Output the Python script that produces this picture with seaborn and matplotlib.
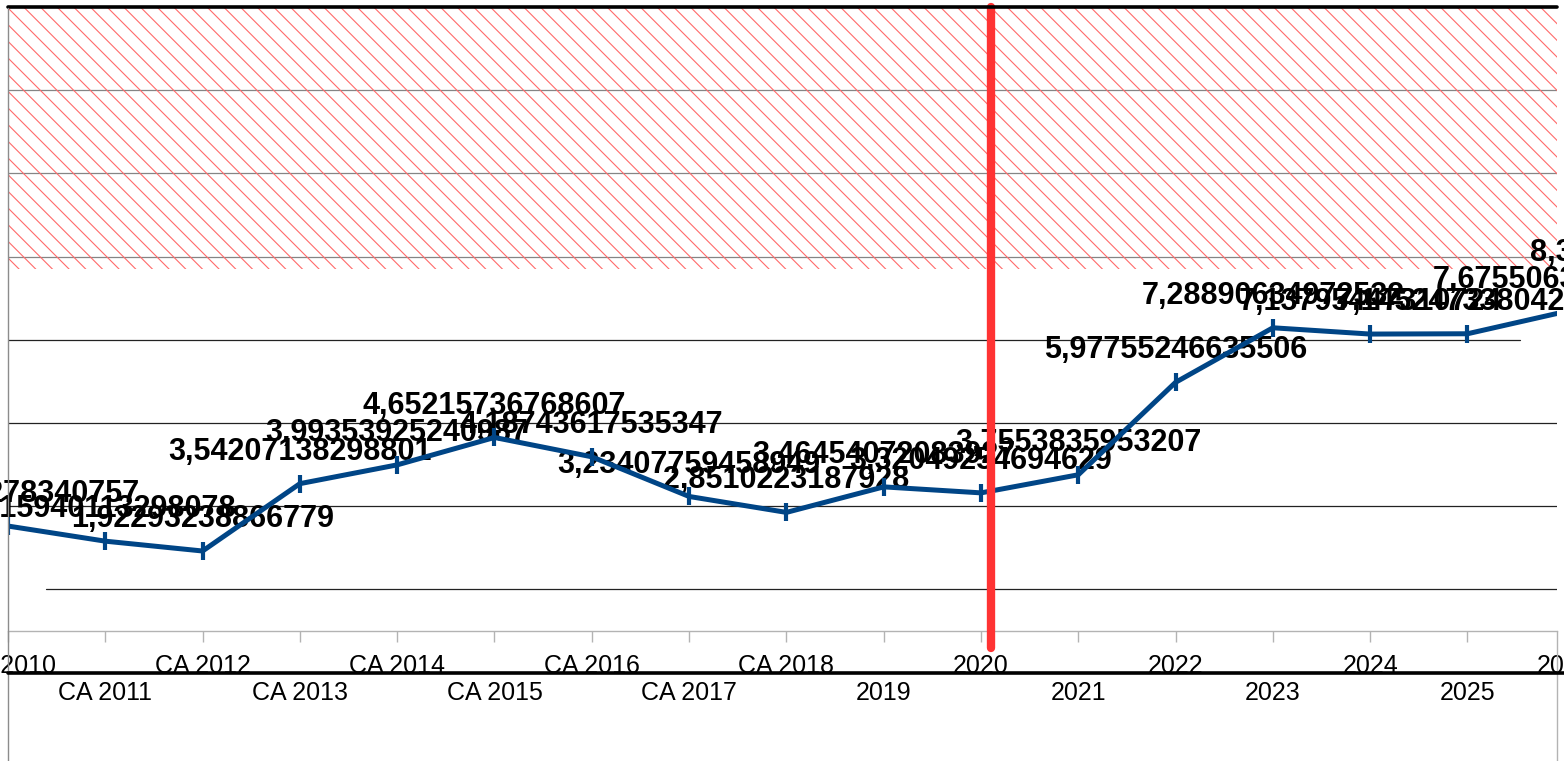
import matplotlib
matplotlib.use("Agg")
import matplotlib.pyplot as plt
from matplotlib.lines import Line2D
import seaborn as sns
import pandas as pd

# chart data
years = ["CA 2010", "CA 2011", "CA 2012", "CA 2013", "CA 2014", "CA 2015",
         "CA 2016", "CA 2017", "CA 2018", "2019", "2020", "2021", "2022",
         "2023", "2024", "2025", "2026", "2027"]
values = [2.52316278340757, 2.15940113298078, 1.92293238866779, 3.54207138298801,
          3.99353925240987, 4.65215736768607, 4.18743617535347, 3.23407759458949,
          2.8510223187928, 3.46454072083927, 3.32049254694629, 3.7553835953207,
          5.97755246635506, 7.28890634972532, 7.13795447310724, 7.14524733804215,
          7.67550638214917, 8.31862045710936]
grid_levels = [1, 3, 5, 7, 9, 11, 13]
zone_low = 8.7
zone_high = 15
cutoff = 10.1
x_right = 15.92

df = pd.DataFrame({"pos": range(len(years)), "year": years, "value": values})

sns.set_theme(style="white")
plt.rcParams["font.family"] = ["Liberation Sans", "DejaVu Sans"]
plt.rcParams["hatch.linewidth"] = 0.8
plt.rcParams["hatch.color"] = "#ff6a6a"

fig = plt.figure(figsize=(15.64, 7.61), dpi=100)
ax = fig.add_axes([8 / 1564, 130 / 761, 1549 / 1564, 624 / 761])

# grid lines
for g in grid_levels:
    xmin, xmax = 0, 1
    if g == 1:
        xmin = 0.0245
    if g == 7:
        xmax = 0.976
    ax.axhline(g, xmin=xmin, xmax=xmax, color="#222222", lw=0.9, zorder=1)
ax.axhline(zone_high, color="black", lw=2.6, zorder=6, clip_on=False)

# hatched zone
ax.axhspan(zone_low, zone_high, facecolor=(1, 1, 1, 0.45), edgecolor="#ff6a6a",
           hatch="\\\\", linewidth=0, zorder=2)

# labels (under the line)
for i, v in enumerate(values):
    ax.annotate(repr(v).replace(".", ","), (i, v), xytext=(0, 23),
                textcoords="offset points", ha="center", va="center",
                fontsize=22, fontweight="bold", color="black",
                annotation_clip=False, zorder=3)

sns.lineplot(data=df, x="pos", y="value", ax=ax, color="#004586", lw=3.6,
             marker="|", markersize=13, markeredgewidth=3,
             markeredgecolor="#004586", zorder=4)

# cutoff marker
ax.axvline(cutoff, ymin=-0.027, ymax=1, color="#ff3333", lw=6, zorder=5,
           clip_on=False)

ax.set_xlabel("")
ax.set_ylabel("")
ax.set_yticks([])

even = [i for i in range(len(years)) if i % 2 == 0]
odd = [i for i in range(len(years)) if i % 2 == 1]
ax.set_xticks(even)
ax.set_xticklabels([years[i] for i in even])
ax.set_xticks(odd, minor=True)
ax.set_xticklabels([years[i] for i in odd], minor=True)
ax.tick_params(axis="x", which="major", length=8, width=1, color="#b3b3b3",
               pad=8.5, labelsize=18, labelcolor="black", bottom=True)
ax.tick_params(axis="x", which="minor", length=8, width=1, color="#b3b3b3",
               pad=28, labelsize=18, labelcolor="black", bottom=True)

ax.set_xlim(0, x_right)
ax.set_ylim(0, 15)

# category labels just past the right limit (cut by the figure edge)
for i in range(len(years)):
    if x_right < i < x_right + 1:
        pad = 16.5 if i % 2 == 0 else 36
        ax.annotate(years[i], (i, 0), xytext=(0, -pad), textcoords="offset points",
                    ha="center", va="top", fontsize=18, color="black",
                    annotation_clip=False)

for s in ["top", "left", "right"]:
    ax.spines[s].set_visible(False)
ax.spines["bottom"].set_color("#b3b3b3")
ax.spines["bottom"].set_linewidth(1)

# frame lines around the plot
fig.add_artist(Line2D([8 / 1564, 8 / 1564], [0, 753 / 761], color="#8c8c8c", lw=1))
fig.add_artist(Line2D([1557 / 1564, 1557 / 1564], [0, 130 / 761], color="#b3b3b3", lw=1))
fig.add_artist(Line2D([8 / 1564, 1], [88 / 761, 88 / 761], color="black", lw=2.6))

fig.savefig("out.png", dpi=100)
